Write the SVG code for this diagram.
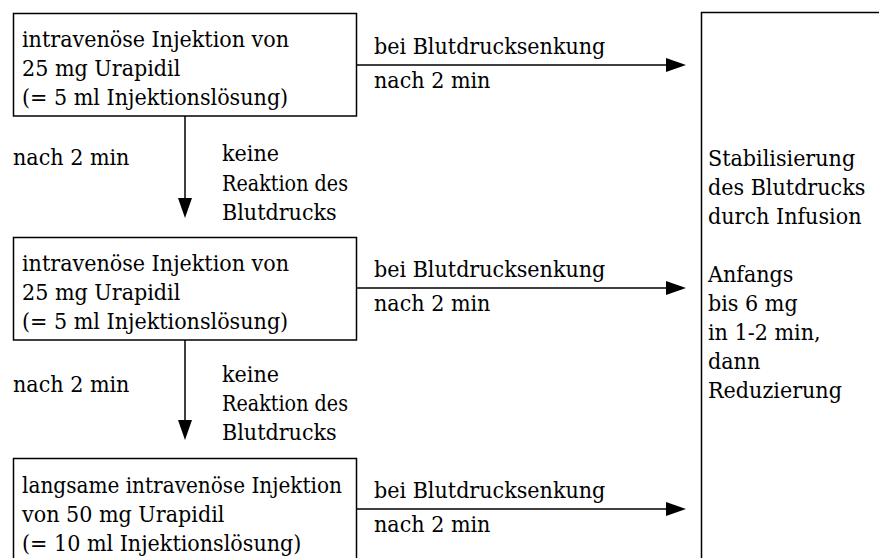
<svg xmlns="http://www.w3.org/2000/svg" width="879" height="558" viewBox="0 0 879 558">
<style>
text{font-family:"DejaVu Serif Condensed","DejaVu Serif",serif;font-stretch:condensed;font-size:23px;fill:#000}
.box{fill:#fff;stroke:#000;stroke-width:1.5}
.ln{stroke:#000;stroke-width:1.5;fill:none}
</style>
<rect width="879" height="558" fill="#fff"/>
<g id="connectors">
<path class="ln" d="M357,65 H672"/><path d="M666,58 L686,65 L666,72 Z"/>
<path class="ln" d="M357,288 H672"/><path d="M666,281 L686,288 L666,295 Z"/>
<path class="ln" d="M357,509 H672"/><path d="M666,502 L686,509 L666,516 Z"/>
<path class="ln" d="M185,116 V205"/><path d="M178,198 L185,218 L192,198 Z"/>
<path class="ln" d="M185,340 V427"/><path d="M178,420 L185,440 L192,420 Z"/>
<text x="374" y="54">bei Blutdrucksenkung</text>
<text x="374" y="88">nach 2 min</text>
<text x="374" y="277">bei Blutdrucksenkung</text>
<text x="374" y="311">nach 2 min</text>
<text x="374" y="498">bei Blutdrucksenkung</text>
<text x="374" y="532">nach 2 min</text>
<text x="13" y="165">nach 2 min</text>
<text x="222" y="161">keine</text>
<text x="222" y="191" textLength="126" lengthAdjust="spacingAndGlyphs">Reaktion des</text>
<text x="222" y="220">Blutdrucks</text>
<text x="13" y="392">nach 2 min</text>
<text x="222" y="382">keine</text>
<text x="222" y="411" textLength="126" lengthAdjust="spacingAndGlyphs">Reaktion des</text>
<text x="222" y="440">Blutdrucks</text>
</g>
<g id="n1">
<rect class="box" x="13.5" y="13.5" width="343" height="102.5"/>
<text x="22" y="47">intravenöse Injektion von</text>
<text x="22" y="76">25 mg Urapidil</text>
<text x="22" y="105">(= 5 ml Injektionslösung)</text>
</g>
<g id="n2">
<rect class="box" x="13.5" y="237.5" width="343" height="102.5"/>
<text x="22" y="271">intravenöse Injektion von</text>
<text x="22" y="300">25 mg Urapidil</text>
<text x="22" y="329">(= 5 ml Injektionslösung)</text>
</g>
<g id="n3">
<rect class="box" x="13.5" y="458.5" width="343" height="110"/>
<text x="22" y="493" textLength="320" lengthAdjust="spacingAndGlyphs">langsame intravenöse Injektion</text>
<text x="22" y="522">von 50 mg Urapidil</text>
<text x="22" y="551">(= 10 ml Injektionslösung)</text>
</g>
<g id="n4">
<rect class="box" x="701.5" y="12.5" width="190" height="560"/>
<text x="708" y="166">Stabilisierung</text>
<text x="708" y="195">des Blutdrucks</text>
<text x="708" y="224">durch Infusion</text>
<text x="708" y="282">Anfangs</text>
<text x="708" y="311">bis 6 mg</text>
<text x="708" y="340">in 1-2 min,</text>
<text x="708" y="369">dann</text>
<text x="708" y="398">Reduzierung</text>
</g>
</svg>
